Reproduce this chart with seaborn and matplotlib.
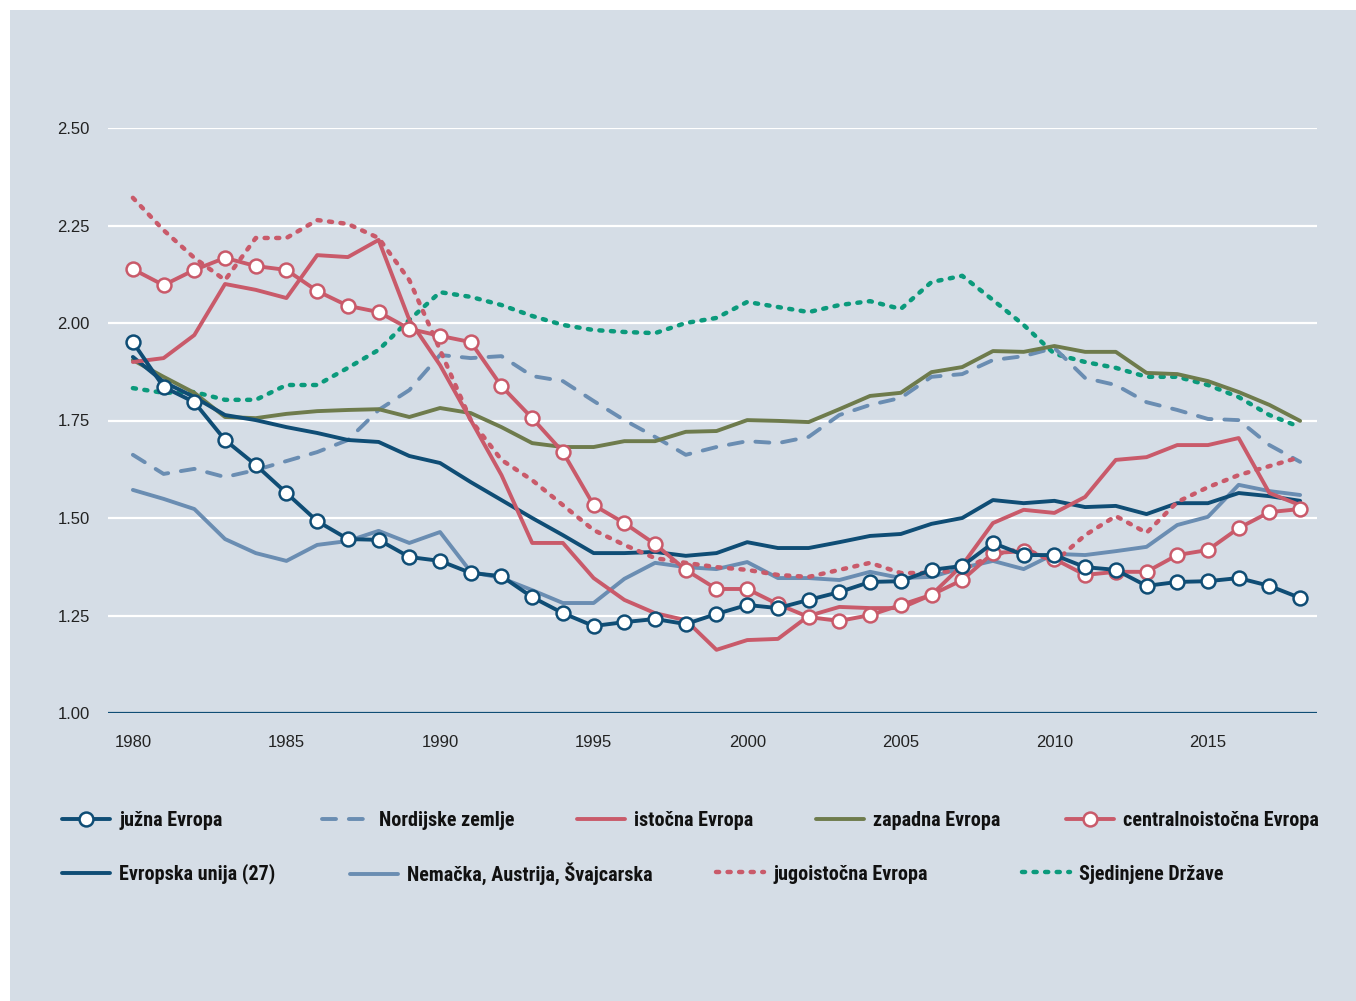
import pandas as pd
import seaborn as sns
import matplotlib.pyplot as plt
from matplotlib.lines import Line2D
from matplotlib.patches import Rectangle

# Data
years = list(range(1980, 2019))

juzna = [1.951, 1.836, 1.797, 1.700, 1.636, 1.564, 1.492, 1.446, 1.444, 1.400,
         1.390, 1.359, 1.351, 1.297, 1.256, 1.223, 1.233, 1.241, 1.228, 1.254,
         1.277, 1.269, 1.290, 1.310, 1.336, 1.338, 1.367, 1.377, 1.436, 1.405,
         1.405, 1.374, 1.367, 1.326, 1.336, 1.338, 1.346, 1.326, 1.295]
nordijske = [1.662, 1.613, 1.626, 1.605, 1.623, 1.646, 1.669, 1.700, 1.777, 1.828,
             1.918, 1.910, 1.915, 1.864, 1.851, 1.800, 1.751, 1.708, 1.662, 1.682,
             1.697, 1.692, 1.708, 1.764, 1.790, 1.808, 1.862, 1.869, 1.905, 1.915,
             1.936, 1.859, 1.841, 1.797, 1.777, 1.754, 1.751, 1.687, 1.644]
istocna = [1.900, 1.910, 1.969, 2.100, 2.085, 2.064, 2.174, 2.169, 2.213, 2.008,
           1.892, 1.751, 1.610, 1.436, 1.436, 1.346, 1.290, 1.256, 1.238, 1.162,
           1.187, 1.190, 1.249, 1.272, 1.269, 1.269, 1.303, 1.379, 1.487, 1.521,
           1.513, 1.554, 1.649, 1.656, 1.687, 1.687, 1.705, 1.564, 1.533]
zapadna = [1.905, 1.862, 1.821, 1.759, 1.756, 1.767, 1.774, 1.777, 1.779, 1.759,
           1.782, 1.769, 1.733, 1.692, 1.682, 1.682, 1.697, 1.697, 1.721, 1.723,
           1.751, 1.749, 1.746, 1.779, 1.813, 1.821, 1.874, 1.887, 1.928, 1.926,
           1.941, 1.926, 1.926, 1.872, 1.869, 1.851, 1.823, 1.790, 1.749]
centralnoistocna = [2.138, 2.097, 2.136, 2.167, 2.146, 2.136, 2.082, 2.044, 2.028, 1.985,
                    1.967, 1.951, 1.838, 1.756, 1.669, 1.533, 1.487, 1.433, 1.367, 1.318,
                    1.318, 1.279, 1.246, 1.236, 1.251, 1.277, 1.303, 1.341, 1.410, 1.415,
                    1.395, 1.354, 1.362, 1.362, 1.405, 1.418, 1.474, 1.515, 1.523]
eu27 = [1.913, 1.849, 1.810, 1.764, 1.751, 1.733, 1.718, 1.700, 1.695, 1.659,
        1.641, 1.592, 1.546, 1.500, 1.456, 1.410, 1.410, 1.413, 1.403, 1.410,
        1.438, 1.423, 1.423, 1.438, 1.454, 1.459, 1.485, 1.500, 1.546, 1.538,
        1.544, 1.528, 1.531, 1.510, 1.538, 1.538, 1.564, 1.556, 1.544]
nemacka = [1.572, 1.549, 1.523, 1.446, 1.410, 1.390, 1.431, 1.441, 1.467, 1.436,
           1.464, 1.362, 1.346, 1.315, 1.282, 1.282, 1.344, 1.385, 1.374, 1.369,
           1.387, 1.346, 1.346, 1.341, 1.362, 1.346, 1.349, 1.372, 1.390, 1.369,
           1.408, 1.405, 1.415, 1.426, 1.482, 1.503, 1.585, 1.569, 1.559]
jugoistocna = [2.321, 2.238, 2.167, 2.110, 2.218, 2.218, 2.264, 2.254, 2.218, 2.110,
               1.931, 1.751, 1.649, 1.597, 1.533, 1.469, 1.431, 1.397, 1.385, 1.374,
               1.367, 1.354, 1.349, 1.367, 1.385, 1.359, 1.359, 1.367, 1.405, 1.423,
               1.387, 1.456, 1.505, 1.462, 1.541, 1.579, 1.610, 1.633, 1.656]
sad = [1.833, 1.821, 1.823, 1.803, 1.803, 1.841, 1.841, 1.885, 1.931, 2.008,
       2.079, 2.067, 2.046, 2.018, 1.995, 1.982, 1.977, 1.974, 2.000, 2.013,
       2.054, 2.041, 2.028, 2.046, 2.056, 2.036, 2.105, 2.121, 2.059, 1.995,
       1.921, 1.900, 1.885, 1.862, 1.862, 1.841, 1.810, 1.764, 1.733]

y_ticks = [1.00, 1.25, 1.50, 1.75, 2.00, 2.25, 2.50]
x_ticks = [1980, 1985, 1990, 1995, 2000, 2005, 2010, 2015]

# Colours
BG = "#d5dde6"
DARK_BLUE = "#0f4d75"
STEEL = "#6a8db2"
RED = "#c95a6a"
OLIVE = "#6e7b4c"
GREEN = "#0b9a7c"

DOT = (0.7, 1.9)
DASH = (3.6, 3.3)

# name, values, color, style ('solid', 'dash', 'dot'), circle markers, zorder
series = [
    ("Sjedinjene Države", sad, GREEN, "dot", False, 2),
    ("Nordijske zemlje", nordijske, STEEL, "dash", False, 3),
    ("Nemačka, Austrija, Švajcarska", nemacka, STEEL, "solid", False, 4),
    ("zapadna Evropa", zapadna, OLIVE, "solid", False, 5),
    ("Evropska unija (27)", eu27, DARK_BLUE, "solid", False, 6),
    ("jugoistočna Evropa", jugoistocna, RED, "dot", False, 7),
    ("istočna Evropa", istocna, RED, "solid", False, 8),
    ("centralnoistočna Evropa", centralnoistocna, RED, "solid", True, 9),
    ("južna Evropa", juzna, DARK_BLUE, "solid", True, 10),
]

W, H = 1356, 1001
LW = 2.8
LW_DOT = 3.2

sns.set_theme(style="white")
plt.rcParams["font.family"] = ["Liberation Sans", "DejaVu Sans"]

fig = plt.figure(figsize=(W / 100, H / 100), dpi=100)
fig.patch.set_facecolor("white")
fig.add_artist(Rectangle((10 / W, 0), 1 - 10 / W, 1 - 10 / H,
                         transform=fig.transFigure, facecolor=BG,
                         edgecolor="none", zorder=-10))

ax = fig.add_axes([108 / W, 288 / H, (1317 - 108) / W, (713 - 128) / H])
ax.set_facecolor(BG)

handles = {}
for name, vals, col, style, circles, z in series:
    lw = LW_DOT if style == "dot" else LW
    kw = dict(color=col, linewidth=lw, zorder=z)
    if circles:
        kw.update(marker="o", markersize=10, markerfacecolor="white",
                  markeredgecolor=col, markeredgewidth=1.8)
    sns.lineplot(x=years, y=vals, ax=ax, **kw)
    line = ax.lines[-1]
    line.set_clip_on(False)
    line.set_solid_joinstyle("round")
    h = Line2D([], [], color=col, linewidth=lw)
    if circles:
        h.set_marker("o")
        h.set_markersize(10)
        h.set_markerfacecolor("white")
        h.set_markeredgecolor(col)
        h.set_markeredgewidth(1.8)
    if style in ("dot", "dash"):
        pat = DOT if style == "dot" else DASH
        for l in (line, h):
            l.set_dashes(pat)
            l.set_dash_capstyle("round")
    handles[name] = h

# Grid and baseline
for yv in y_ticks[1:]:
    ax.axhline(yv, color="white", linewidth=1.6, zorder=1)
ax.axhline(1.0, color=DARK_BLUE, linewidth=1.6, zorder=1)

ax.set_xlim(1979.19, 2018.55)
ax.set_ylim(1.0, 2.5)
ax.set_yticks(y_ticks)
ax.set_yticklabels([f"{v:.2f}" for v in y_ticks])
ax.set_xticks(x_ticks)
ax.set_xticklabels([str(v) for v in x_ticks])
ax.tick_params(axis="y", length=0, pad=13, labelsize=12, labelcolor="#222222")
ax.tick_params(axis="x", length=0, pad=16, labelsize=12, labelcolor="#222222")
for sp in ax.spines.values():
    sp.set_visible(False)
ax.grid(False)

# Legend: one small legend per entry, placed like the reference
legend_pos = [
    ("južna Evropa", 62, 821), ("Nordijske zemlje", 322, 821),
    ("istočna Evropa", 577, 821), ("zapadna Evropa", 816, 821),
    ("centralnoistočna Evropa", 1066, 821),
    ("Evropska unija (27)", 62, 874), ("Nemačka, Austrija, Švajcarska", 350, 874),
    ("jugoistočna Evropa", 716, 874), ("Sjedinjene Države", 1022, 874),
]
leg_font = {"family": ["Liberation Sans Narrow", "Roboto Condensed", "Liberation Sans"],
            "weight": "bold", "size": 14.5}
for name, px, py in legend_pos:
    fig.legend(handles=[handles[name]], labels=[name], loc="center left",
               bbox_to_anchor=(px / W, 1 - py / H), frameon=False,
               borderpad=0, borderaxespad=0, handlelength=2.4,
               handletextpad=0.45, prop=leg_font, labelcolor="#111111")

fig.savefig("out.png", dpi=100, facecolor=fig.get_facecolor())
plt.close(fig)
